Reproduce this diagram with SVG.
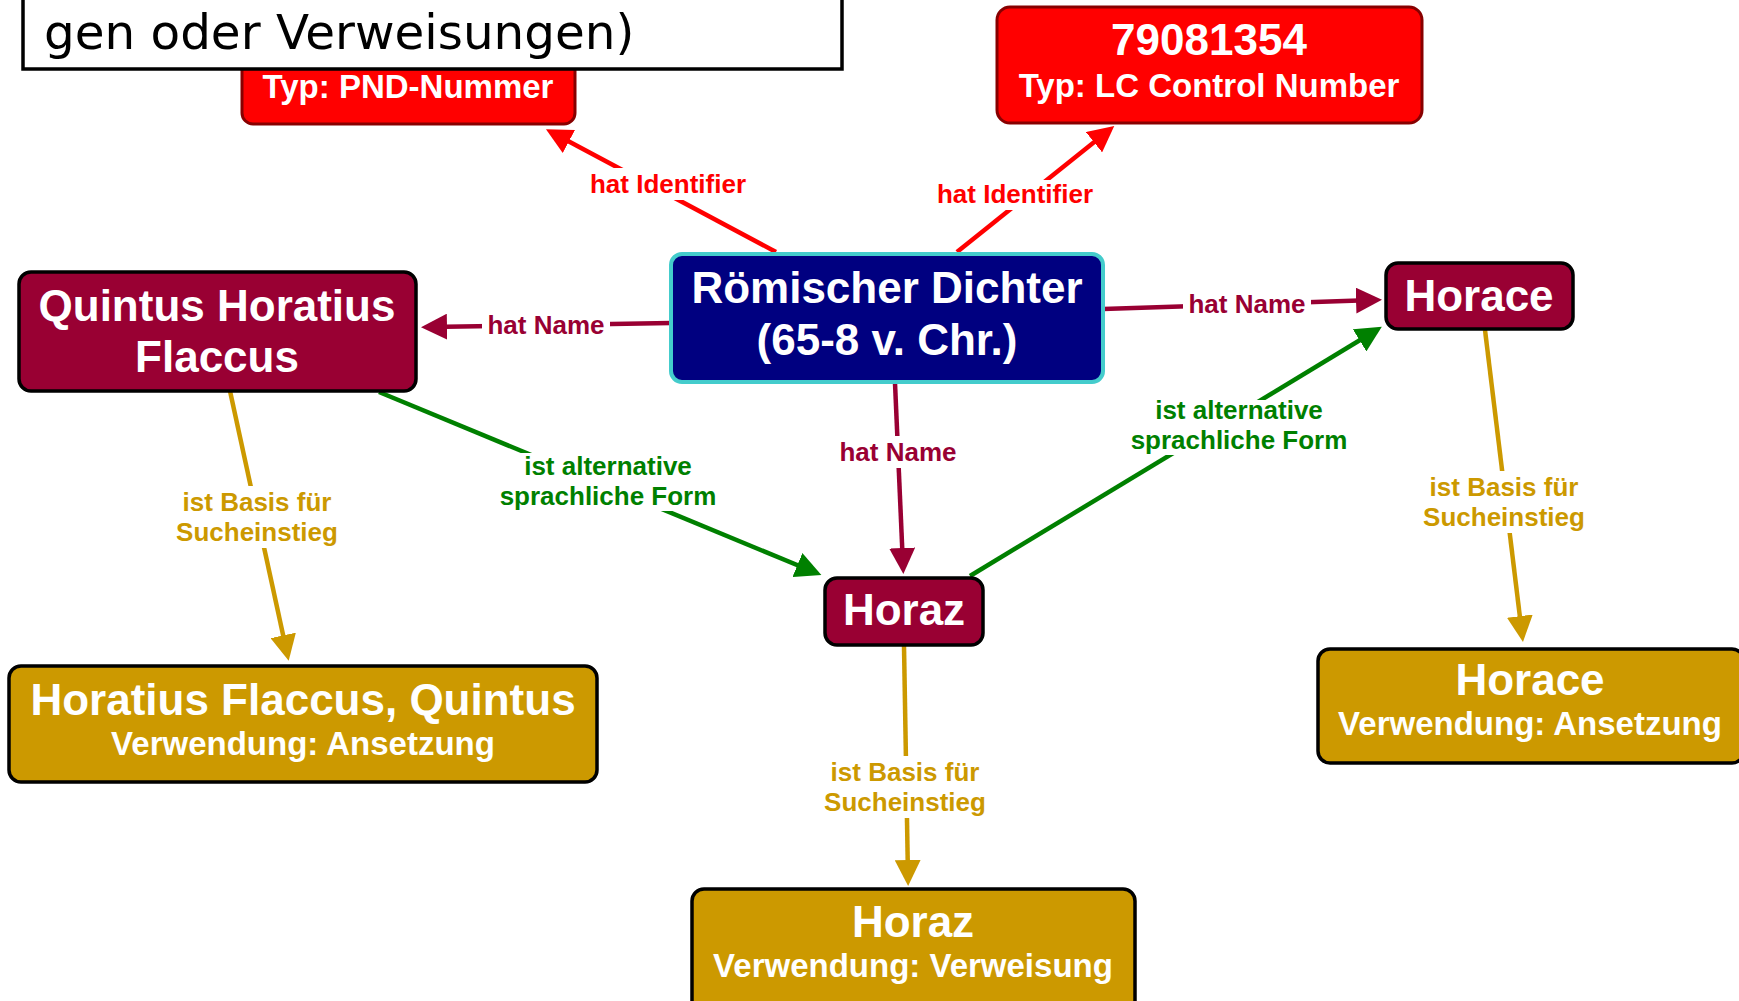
<svg xmlns="http://www.w3.org/2000/svg" width="1739" height="1001" viewBox="0 0 1739 1001">
<style>
.nt{font-family:"Liberation Sans",Arial,sans-serif;font-weight:bold;fill:#ffffff;text-anchor:middle}
.big{font-size:44px}
.small{font-size:33px}
.lbl{font-family:"Liberation Sans",Arial,sans-serif;font-weight:bold;font-size:26px;text-anchor:middle}
.bg{fill:#ffffff;stroke:none}
.c-red{stroke:#ff0000}
.c-cr{stroke:#990033}
.c-gr{stroke:#008000}
.c-go{stroke:#cc9900}
.ln{fill:none;stroke-width:4.5}
.crim{fill:#990033;stroke:#000000;stroke-width:3.5}
.gold{fill:#cc9900;stroke:#000000;stroke-width:3.5}
.redn{fill:#ff0000;stroke:#880000;stroke-width:3}
</style>
<defs>
<marker id="aRed" markerUnits="userSpaceOnUse" markerWidth="26" markerHeight="26" refX="18" refY="13" orient="auto" viewBox="0 0 26 26"><path d="M0,0 L26,13 L0,26 z" fill="#ff0000"/></marker>
<marker id="aCr" markerUnits="userSpaceOnUse" markerWidth="26" markerHeight="26" refX="18" refY="13" orient="auto" viewBox="0 0 26 26"><path d="M0,0 L26,13 L0,26 z" fill="#990033"/></marker>
<marker id="aGr" markerUnits="userSpaceOnUse" markerWidth="26" markerHeight="26" refX="18" refY="13" orient="auto" viewBox="0 0 26 26"><path d="M0,0 L26,13 L0,26 z" fill="#008000"/></marker>
<marker id="aGo" markerUnits="userSpaceOnUse" markerWidth="26" markerHeight="26" refX="18" refY="13" orient="auto" viewBox="0 0 26 26"><path d="M0,0 L26,13 L0,26 z" fill="#cc9900"/></marker>
</defs>
<rect x="0" y="0" width="1739" height="1001" fill="#ffffff"/>

<g id="connectors">
  <path class="ln c-red" d="M776,252 L553,133" marker-end="url(#aRed)"/>
  <path class="ln c-red" d="M957,252 L1108,131" marker-end="url(#aRed)"/>
  <path class="ln c-cr" d="M671,323 L429,327" marker-end="url(#aCr)"/>
  <path class="ln c-cr" d="M1103,309 L1374,300" marker-end="url(#aCr)"/>
  <path class="ln c-cr" d="M895,383 L903,566" marker-end="url(#aCr)"/>
  <path class="ln c-gr" d="M379,392 L814,572" marker-end="url(#aGr)"/>
  <path class="ln c-gr" d="M970,576 L1375,331" marker-end="url(#aGr)"/>
  <path class="ln c-go" d="M230,391 L287,653" marker-end="url(#aGo)"/>
  <path class="ln c-go" d="M904,646 L908,878" marker-end="url(#aGo)"/>
  <path class="ln c-go" d="M1485,330 L1522,634" marker-end="url(#aGo)"/>

  <g id="label-id1"><rect class="bg" x="585" y="168" width="166" height="32"/><text class="lbl" x="668" y="193" fill="#ff0000">hat Identifier</text></g>
  <g id="label-id2"><rect class="bg" x="934" y="180" width="162" height="30"/><text class="lbl" x="1015" y="203" fill="#ff0000">hat Identifier</text></g>
  <g id="label-n1"><rect class="bg" x="482" y="310" width="128" height="32"/><text class="lbl" x="546" y="334" fill="#990033">hat Name</text></g>
  <g id="label-n2"><rect class="bg" x="1183" y="289" width="128" height="32"/><text class="lbl" x="1247" y="313" fill="#990033">hat Name</text></g>
  <g id="label-n3"><rect class="bg" x="834" y="436" width="128" height="32"/><text class="lbl" x="898" y="461" fill="#990033">hat Name</text></g>
  <g id="label-g1"><rect class="bg" x="495" y="453" width="227" height="58"/><text class="lbl" x="608" y="475" fill="#008000">ist alternative</text><text class="lbl" x="608" y="505" fill="#008000">sprachliche Form</text></g>
  <g id="label-g2"><rect class="bg" x="1128" y="400" width="223" height="55"/><text class="lbl" x="1239" y="419" fill="#008000">ist alternative</text><text class="lbl" x="1239" y="449" fill="#008000">sprachliche Form</text></g>
  <g id="label-b1"><rect class="bg" x="171" y="486" width="172" height="62"/><text class="lbl" x="257" y="511" fill="#cc9900">ist Basis für</text><text class="lbl" x="257" y="541" fill="#cc9900">Sucheinstieg</text></g>
  <g id="label-b2"><rect class="bg" x="819" y="756" width="172" height="62"/><text class="lbl" x="905" y="781" fill="#cc9900">ist Basis für</text><text class="lbl" x="905" y="811" fill="#cc9900">Sucheinstieg</text></g>
  <g id="label-b3"><rect class="bg" x="1418" y="471" width="172" height="62"/><text class="lbl" x="1504" y="496" fill="#cc9900">ist Basis für</text><text class="lbl" x="1504" y="526" fill="#cc9900">Sucheinstieg</text></g>
</g>

<g id="node-pnd">
  <rect class="redn" x="242" y="-20" width="333" height="144" rx="11"/>
  <text class="nt small" x="408" y="98">Typ: PND-Nummer</text>
</g>
<g id="node-note">
  <rect x="23" y="-20" width="819" height="89" fill="#ffffff" stroke="#000000" stroke-width="3.5"/>
  <text x="44" y="49" font-family="'DejaVu Sans',Verdana,sans-serif" font-size="48.4" fill="#000000">gen oder Verweisungen)</text>
</g>
<g id="node-lc">
  <rect class="redn" x="997" y="7" width="425" height="116" rx="13"/>
  <text class="nt big" x="1209" y="55">79081354</text>
  <text class="nt small" x="1209" y="97">Typ: LC Control Number</text>
</g>
<g id="node-center">
  <rect x="671" y="254" width="432" height="128" rx="11" fill="#000080" stroke="#44cccc" stroke-width="4"/>
  <text class="nt big" x="887" y="303">Römischer Dichter</text>
  <text class="nt big" x="887" y="355">(65-8 v. Chr.)</text>
</g>
<g id="node-quintus">
  <rect class="crim" x="19" y="272" width="397" height="119" rx="12"/>
  <text class="nt big" x="217" y="321">Quintus Horatius</text>
  <text class="nt big" x="217" y="372">Flaccus</text>
</g>
<g id="node-horace">
  <rect class="crim" x="1386" y="263" width="187" height="66" rx="12"/>
  <text class="nt big" x="1479" y="311">Horace</text>
</g>
<g id="node-horaz">
  <rect class="crim" x="825" y="578" width="158" height="67" rx="12"/>
  <text class="nt big" x="904" y="625">Horaz</text>
</g>
<g id="node-hf-ansetzung">
  <rect class="gold" x="9" y="666" width="588" height="116" rx="12"/>
  <text class="nt big" x="303" y="715">Horatius Flaccus, Quintus</text>
  <text class="nt small" x="303" y="755">Verwendung: Ansetzung</text>
</g>
<g id="node-horace-ansetzung">
  <rect class="gold" x="1318" y="649" width="426" height="114" rx="12"/>
  <text class="nt big" x="1530" y="695">Horace</text>
  <text class="nt small" x="1530" y="735">Verwendung: Ansetzung</text>
</g>
<g id="node-horaz-verweisung">
  <rect class="gold" x="692" y="889" width="443" height="130" rx="12"/>
  <text class="nt big" x="913" y="937">Horaz</text>
  <text class="nt small" x="913" y="977">Verwendung: Verweisung</text>
</g>
</svg>
